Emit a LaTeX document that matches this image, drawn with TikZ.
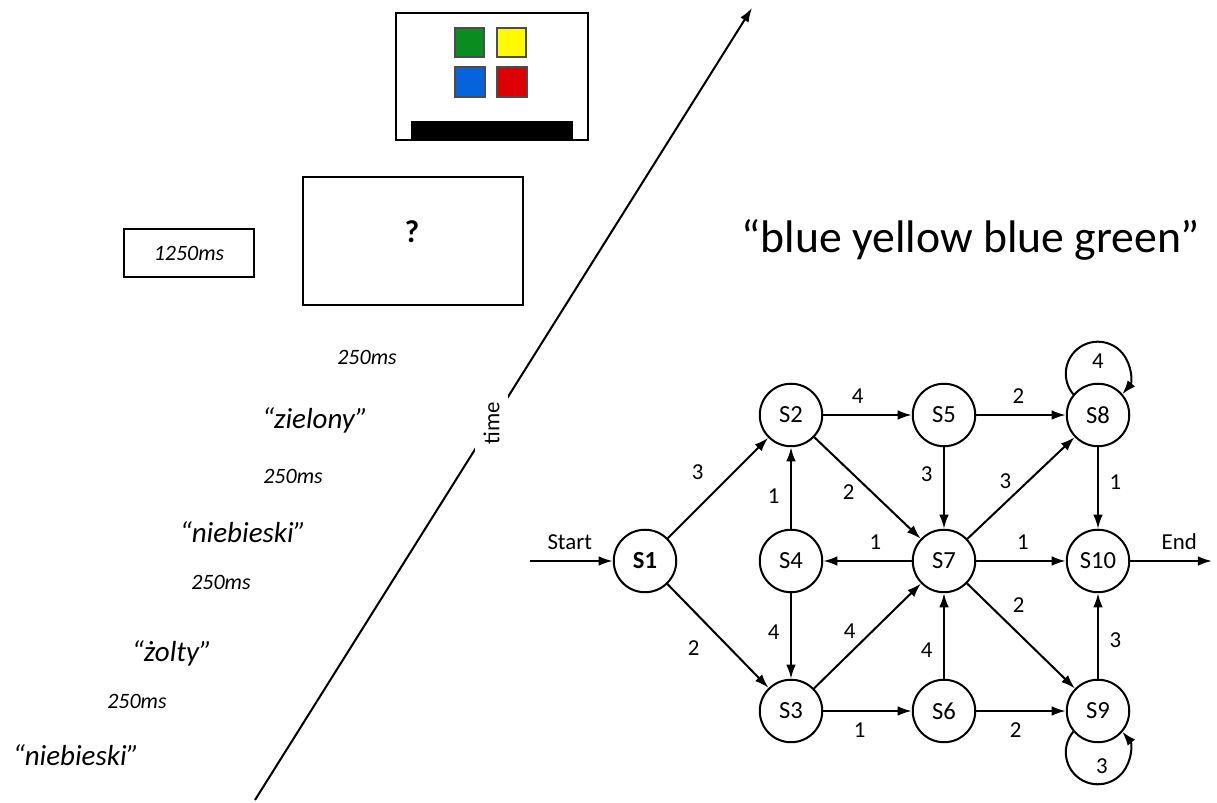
\documentclass[tikz,border=0pt]{standalone}
\usepackage{fontspec}
\setmainfont{Carlito}
\usepackage{tikz}
\usetikzlibrary{positioning, arrows.meta}
\definecolor{sqgreen}{RGB}{10,140,30}
\definecolor{sqyellow}{RGB}{255,250,0}
\definecolor{sqblue}{RGB}{5,100,220}
\definecolor{sqred}{RGB}{220,0,0}

\begin{document}
\begin{tikzpicture}[x=0.02cm, y=0.02cm, line width=1.15pt, >={Latex[length=8pt,width=5.5pt]},
	state/.style={circle, draw, minimum size=1.25cm, inner sep=0pt, font=\fontsize{14}{14}\selectfont},
	wt/.style={font=\fontsize{13}{13}\selectfont, inner sep=6pt},
	word/.style={font=\itshape\fontsize{16.5}{16.5}\selectfont},
	dur/.style={font=\itshape\fontsize{12.5}{12.5}\selectfont},
	swatch/.style={draw=black!70, line width=1pt}]
	\useasboundingbox (0,0) rectangle (1217,803);

	\draw (396,663) rectangle (588,790);
	\filldraw[swatch, fill=sqgreen] (455,746) rectangle (484,775);
	\filldraw[swatch, fill=sqyellow] (497,746) rectangle (526,775);
	\filldraw[swatch, fill=sqblue] (455,706) rectangle (485,736);
	\filldraw[swatch, fill=sqred] (497,706) rectangle (527,736);
	\fill (411,663) rectangle (573,682);

	\node[draw, minimum width=4.4cm, minimum height=2.56cm] (qbox) at (413,562) {};
	\node[font=\bfseries\fontsize{18}{18}\selectfont] (qmark) at (412,571) {?};
	\node[draw, minimum width=2.6cm, minimum height=0.96cm, dur] (fix) at (189,550) {1250ms};

	\node[dur] (d1) at (367,446) {250ms};
	\node[word] (w1) at (315,383) {“zielony”};
	\node[dur] (d2) at (293,327) {250ms};
	\node[word] (w2) at (243,271) {“niebieski”};
	\node[dur] (d3) at (221,221) {250ms};
	\node[word] (w3) at (172,150) {“żolty”};
	\node[dur] (d4) at (137,102) {250ms};
	\node[word] (w4) at (76,48) {“niebieski”};

	\coordinate (t0) at (255,3);
	\coordinate (t1) at (752,795);
	\draw[->] (t0) -- node[pos=0.476, rotate=90, fill=white, inner xsep=6pt, inner ysep=5pt, font=\fontsize{13}{13}\selectfont] {time} (t1);

	\node[font=\fontsize{26}{26}\selectfont] (title) at (971,563) {“blue yellow blue green”};

	\node[state, font=\bfseries\fontsize{14}{14}\selectfont] (s1) at (645,242) {S1};
	\node[state] (s2) at (791,388) {S2};
	\node[state] (s4) at (791,242) {S4};
	\node[state] (s3) at (791,92) {S3};
	\node[state] (s5) at (944,388) {S5};
	\node[state] (s7) at (944,242) {S7};
	\node[state] (s6) at (944,92) {S6};
	\node[state] (s8) at (1098,388) {S8};
	\node[state] (s10) at (1098,242) {S10};
	\node[state] (s9) at (1098,92) {S9};

	\coordinate (start) at (530,242);
	\coordinate (end) at (1212,242);
	\draw[->] (start) -- node[wt, above, pos=0.48] {Start} (s1);
	\draw[->] (s10) -- node[wt, above, pos=0.6] {End} (end);

	\draw[->] (s1) edge node[wt, above left, pos=0.47] {3} (s2);
	\draw[->] (s1) edge node[wt, below left, pos=0.43] {2} (s3);
	\draw[->] (s2) edge node[wt, above, pos=0.39] {4} (s5);
	\draw[->] (s2) edge node[wt, below left, inner sep=2pt, pos=0.42] {2} (s7);
	\draw[->] (s4) edge node[wt, left, pos=0.4] {1} (s2);
	\draw[->] (s4) edge node[wt, left, pos=0.45] {4} (s3);
	\draw[->] (s7) edge node[wt, above, pos=0.41] {1} (s4);
	\draw[->] (s3) edge node[wt, above left, inner sep=2pt, pos=0.43] {4} (s7);
	\draw[->] (s3) edge node[wt, below, pos=0.41] {1} (s6);
	\draw[->] (s5) edge node[wt, left, pos=0.33] {3} (s7);
	\draw[->] (s5) edge node[wt, above, pos=0.47] {2} (s8);
	\draw[->] (s7) edge node[wt, above left, inner sep=2pt, pos=0.45] {3} (s8);
	\draw[->] (s7) edge node[wt, above, pos=0.52] {1} (s10);
	\draw[->] (s7) edge node[wt, above right, inner sep=4pt, pos=0.35] {2} (s9);
	\draw[->] (s6) edge node[wt, left, pos=0.33] {4} (s7);
	\draw[->] (s6) edge node[wt, below, pos=0.44] {2} (s9);
	\draw[->] (s8) edge node[wt, right, pos=0.43] {1} (s10);
	\draw[->] (s9) edge node[wt, right, pos=0.45] {3} (s10);

	\draw[->] (s8.140) arc[start angle=220, end angle=-40, radius=0.64cm];
	\node[wt, inner sep=0pt] (l8) at (1098,442) {4};
	\draw[->] (s9.220) arc[start angle=140, end angle=400, radius=0.64cm];
	\node[wt, inner sep=0pt] (l9) at (1102,37) {3};
\end{tikzpicture}
\end{document}
